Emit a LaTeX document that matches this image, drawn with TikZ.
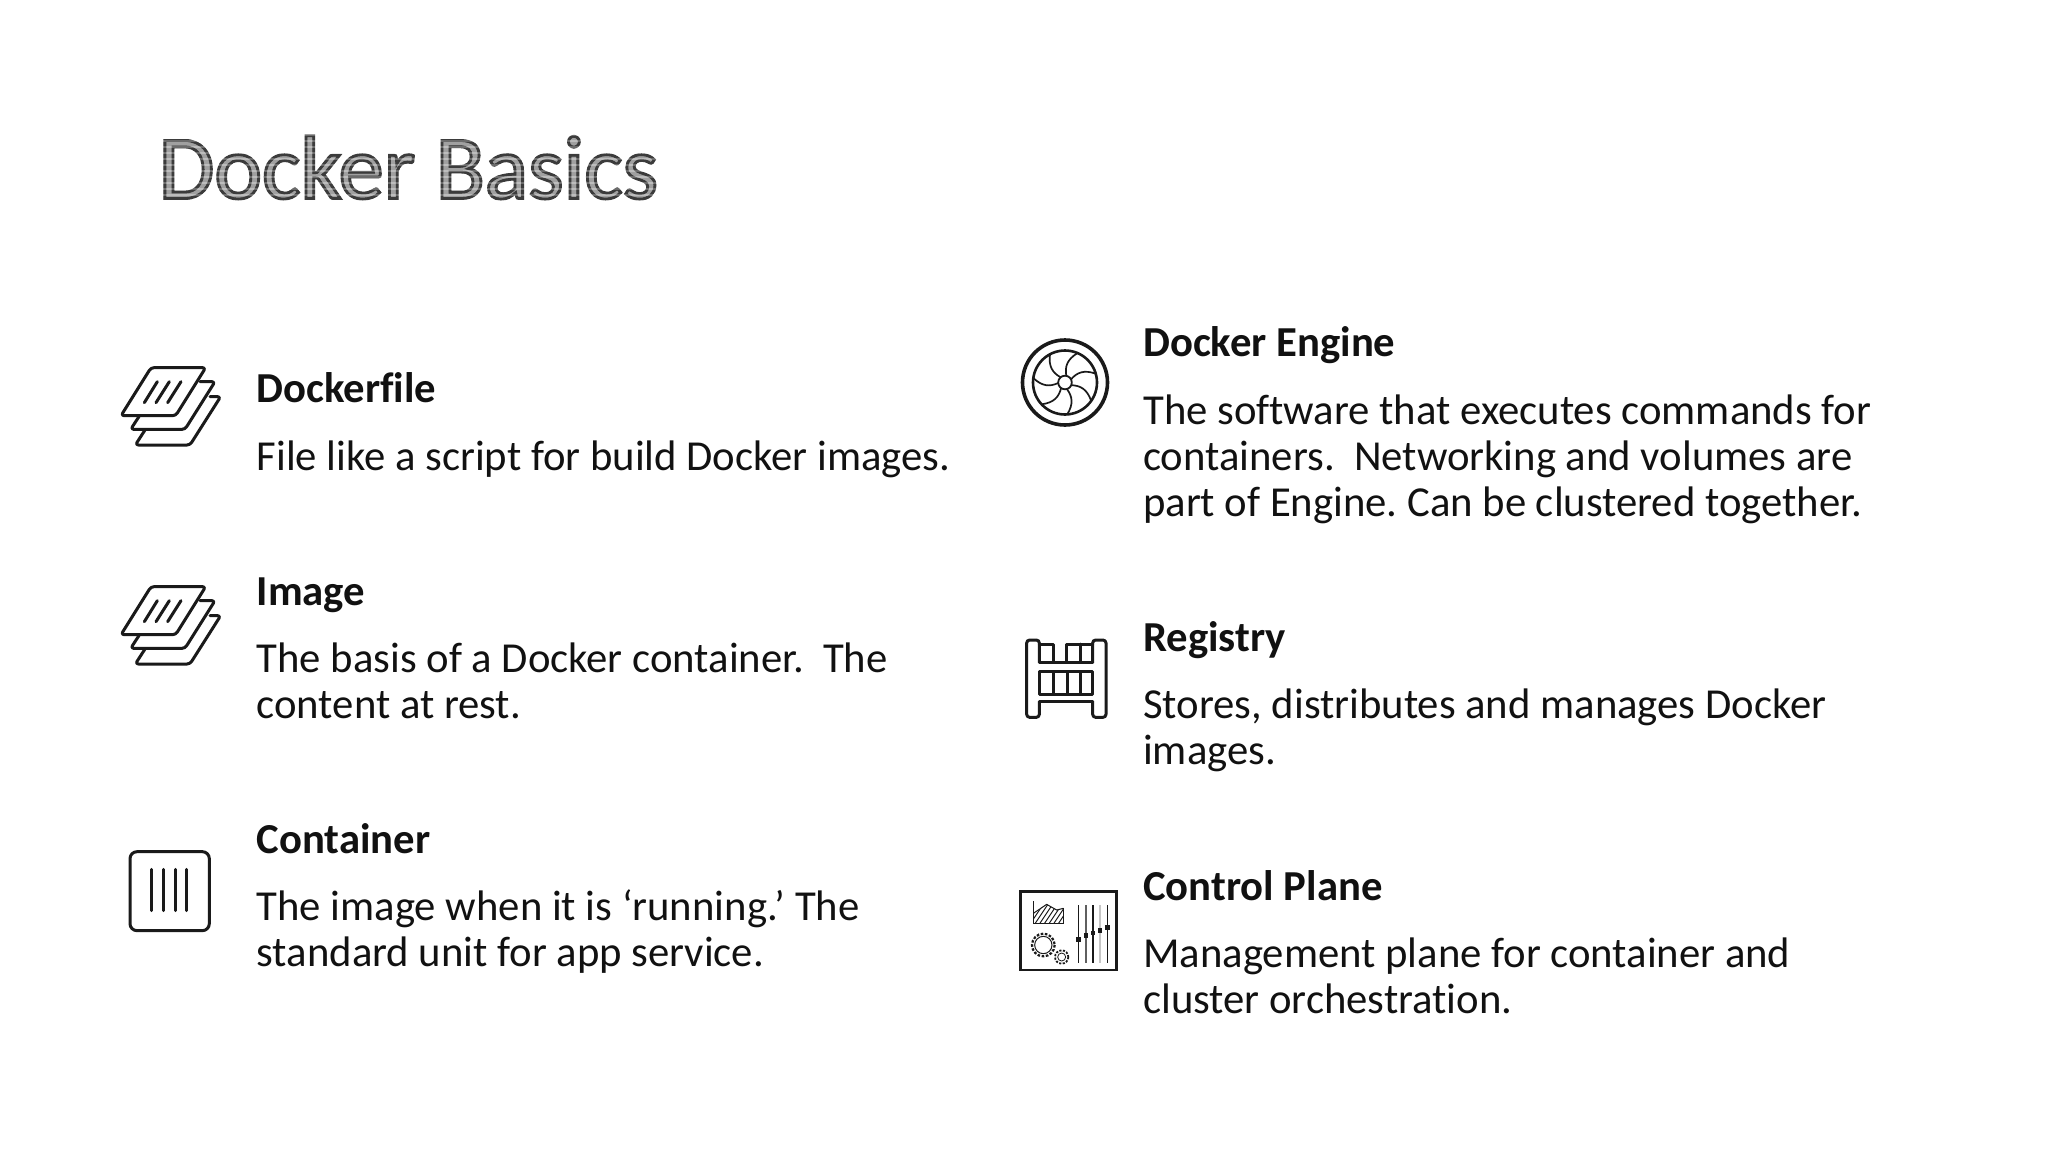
\documentclass[tikz,border=0pt]{standalone}
\usepackage{fontspec}
\setmainfont[Ligatures=NoCommon]{Carlito}
\usetikzlibrary{calc}
\definecolor{ink}{HTML}{111111}
\definecolor{iconink}{HTML}{1A1A1A}
\tikzset{
  zoomunits/.style={x=0.33333pt,y=-0.33333pt},
  head/.style={anchor=base west,inner sep=0pt,text=ink,font=\fontsize{42.7}{46}\selectfont\bfseries\frenchspacing},
  body/.style={anchor=base west,inner sep=0pt,text=ink,align=left,font=\fontsize{42.7}{46}\selectfont\frenchspacing},
  title/.style={anchor=base west,inner sep=0pt,font=\fontsize{90.5}{110}\selectfont},
  icon/.style={draw=iconink,line width=3pt,line join=round,line cap=round},
  stack/.pic={
    \draw[icon,rounded corners=3pt] (153,53) -- (317,53) -- (227,197) -- (63,197) -- cycle;
    \draw[icon,rounded corners=3pt] (300,95) -- (345,95) -- (255,238) -- (92,238) -- (118,198);
    \draw[icon,rounded corners=3pt] (330,140) -- (362,140) -- (270,285) -- (106,285) -- (135,240);
    \draw[icon] (172,95) -- (133,158) (208,95) -- (168,158) (243,95) -- (203,158);
  }
}
\begin{document}
\begin{tikzpicture}[x=1pt,y=-1pt]
\useasboundingbox[fill=white] (0,0) rectangle (2048,1152);

% title
\node[title] (title) at (158.5,198.5) {\special{pdf:code 0.74 g 0.42 G 2 Tr 2.8 w}Docker Basics\special{pdf:code 0 Tr}};
\begin{scope}[blend mode=overlay]
  \foreach \yy in {130,136,...,206}
    \fill[black!72] (155,\yy) rectangle (668,\yy+4);
\end{scope}

% left column
\node[head] (dockerfile) at (256.5,402.4) {Dockerfile};
\node[body] (dockerfiletext) at (256.5,470.4) {File like a script for build Docker images.};
\node[head] (image) at (256.5,605) {Image};
\node[body] (imagetext) at (256.5,718) {The basis of a Docker container.\ \ The\\content at rest.};
\node[head] (container) at (256.5,853) {Container};
\node[body] (containertext) at (256.5,966.5) {The image when it is ‘running.’ The\\standard unit for app service.};

% right column
\node[head] (engine) at (1143,356.4) {Docker Engine};
\node[body] (enginetext) at (1143,516.4) {The software that executes commands for\\containers.\ \ Networking and volumes are\\part of Engine. Can be clustered together.};
\node[head] (registry) at (1143,651) {Registry};
\node[body] (registrytext) at (1143,764) {Stores, distributes and manages Docker\\images.};
\node[head] (plane) at (1143,900) {Control Plane};
\node[body] (planetext) at (1143,1013) {Management plane for container and\\cluster orchestration.};

% dockerfile and image icons
\begin{scope}[shift={(100,350)},zoomunits]
  \pic {stack};
\end{scope}
\begin{scope}[shift={(100,569)},zoomunits]
  \pic {stack};
\end{scope}

% container icon
\begin{scope}[shift={(110,840)},zoomunits]
  \draw[icon,rounded corners=7pt] (60,35) rectangle (298,272);
  \draw[icon] (124,88) -- (124,212) (159,88) -- (159,212) (196,88) -- (196,212) (230,88) -- (230,212);
\end{scope}

% engine icon
\begin{scope}[shift={(1065,382.5)}]
  \draw[iconink,line width=3.6pt] (0,0) circle[radius=42.5];
  \draw[iconink,line width=2.6pt] (0,0) circle[radius=32];
  \draw[iconink,line width=1.8pt] (0,0) circle[radius=6.8];
  \foreach \a in {16,67,118,172,223,274,325}
    \draw[iconink,line width=1.7pt]
      ({6.8*cos(\a+12)},{-6.8*sin(\a+12)}) .. controls ({16*cos(\a+24)},{-16*sin(\a+24)}) and ({23*cos(\a+18)},{-23*sin(\a+18)}) .. ({32*cos(\a)},{-32*sin(\a)});
\end{scope}

% registry icon
\begin{scope}[shift={(1020,630)},zoomunits]
  \draw[icon,rounded corners=3pt] (58,215) -- (58,262) -- (20,262) -- (20,30) -- (58,30) -- (58,97);
  \draw[icon,rounded corners=3pt] (218,215) -- (218,262) -- (258,262) -- (258,30) -- (218,30) -- (218,97);
  \draw[icon] (58,215) -- (218,215);
  \draw[icon] (58,42) -- (100,42) -- (100,97) (140,97) -- (140,42) -- (218,42) (180,42) -- (180,97) (58,97) -- (218,97);
  \draw[icon] (58,125) rectangle (218,193);
  \draw[icon] (100,125) -- (100,193) (142,125) -- (142,193) (180,125) -- (180,193);
\end{scope}

% control plane icon
\begin{scope}[shift={(1015,885)},zoomunits]
  \draw[draw=iconink,line width=2.4pt] (17,20) rectangle (305,255);
  \begin{scope}
    \clip (55,85) -- (95,58) -- (125,75) -- (145,70) -- (145,115) -- (55,115) -- cycle;
    \foreach \k in {0,14,...,126}
      \draw[iconink,line width=1pt] (40+\k,125) -- (90+\k,50);
  \end{scope}
  \draw[iconink,line width=1pt] (55,85) -- (95,58) -- (125,75) -- (145,70);
  \draw[iconink,line width=1.3pt] (55,48) -- (55,115) -- (145,115) -- (145,70);
  \draw[iconink,line width=2.2pt,dash pattern=on 2.6pt off 1.6pt] (85,180) circle[radius=34];
  \draw[iconink,line width=1pt] (85,180) circle[radius=26];
  \draw[iconink,line width=1.8pt,dash pattern=on 2.2pt off 1.4pt] (140,216) circle[radius=20];
  \draw[iconink,line width=.8pt] (140,216) circle[radius=12];
  \draw[iconink,line width=1.4pt] (190,60) -- (190,235);
  \draw[iconink!70,line width=1.4pt] (213,60) -- (213,235);
  \draw[iconink,line width=1.5pt] (234,60) -- (234,235);
  \draw[iconink!25,line width=1.2pt] (255,60) -- (255,235);
  \draw[iconink,line width=1.4pt] (277,60) -- (277,235);
  \foreach \kx/\ky in {190/163,213/152,234/144,255/136,277/128}
    \fill[iconink] (\kx-7,\ky-7) rectangle (\kx+7,\ky+7);
\end{scope}
\end{tikzpicture}
\end{document}
